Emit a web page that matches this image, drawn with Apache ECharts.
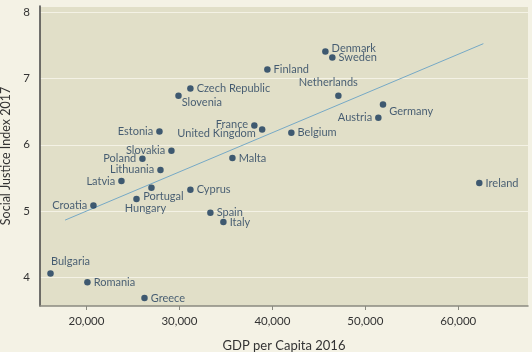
<!DOCTYPE html>
<html>
<head>
<meta charset="utf-8">
<script src="https://cdn.jsdelivr.net/npm/echarts@6/dist/echarts.min.js"></script>
<style>
  html, body { margin: 0; padding: 0; background: #f4f2e5; }
  #chart { width: 532px; height: 352px; }
</style>
</head>
<body>
<div id="chart"></div>
<script>
// Static data
const countries = ["Denmark", "Sweden", "Finland", "Netherlands", "Germany", "Austria",
  "Czech Republic", "Slovenia", "France", "United Kingdom", "Belgium", "Estonia",
  "Slovakia", "Malta", "Poland", "Lithuania", "Latvia", "Portugal", "Cyprus",
  "Hungary", "Croatia", "Spain", "Italy", "Ireland", "Bulgaria", "Romania", "Greece"];
const gdp2016 = [45700, 46450, 39460, 47100, 51900, 51400,
  31180, 29900, 38060, 38900, 42040, 27850,
  29140, 35700, 26020, 27960, 23760, 26990, 31180,
  25380, 20750, 33330, 34730, 62260, 16130, 20100, 26240];
const sji2017 = [7.41, 7.32, 7.14, 6.74, 6.61, 6.41,
  6.85, 6.74, 6.29, 6.23, 6.18, 6.20,
  5.91, 5.80, 5.79, 5.62, 5.45, 5.35, 5.32,
  5.18, 5.08, 4.97, 4.83, 5.42, 4.05, 3.92, 3.68];
// trend line end points
const trendX = [17700, 62700];
const trendY = [4.86, 7.53];

// where each label sits next to its dot
const labelPlace = {
  "Denmark": ["right", [0, -3]],
  "Netherlands": ["top", [-10, -2]],
  "Germany": ["right", [0, 7]],
  "Austria": ["left", [0, 0]],
  "Slovenia": ["right", [-3, 7]],
  "France": ["left", [0, -1]],
  "United Kingdom": ["left", [0, 4]],
  "Estonia": ["left", [0, 0]],
  "Slovakia": ["left", [0, 0]],
  "Poland": ["left", [0, 0]],
  "Lithuania": ["left", [0, 0]],
  "Latvia": ["left", [0, 0]],
  "Portugal": ["bottom", [12, -3]],
  "Hungary": ["bottom", [9, -2]],
  "Croatia": ["left", [0, 0]],
  "Bulgaria": ["top", [20, 0]]
};

const labelColor = "#1d3a5a";
const points = countries.map((name, i) => {
  const p = labelPlace[name] || ["right", [0, 0]];
  return {
    name: name,
    value: [gdp2016[i], sji2017[i]],
    label: { position: p[0], offset: p[1] }
  };
});

const chart = echarts.init(document.getElementById("chart"));
chart.setOption({
  backgroundColor: "#f4f2e5",
  textStyle: { fontFamily: "Lato" },
  grid: {
    left: 40, right: 4, top: 6, bottom: 46,
    outerBoundsMode: "none",
    containLabel: false,
    show: true, backgroundColor: "#e1dfc8", borderWidth: 0
  },
  xAxis: {
    type: "value",
    min: 15000,
    max: 67500,
    splitNumber: 5,
    name: "GDP per Capita 2016",
    nameLocation: "middle",
    nameGap: 33,
    nameTextStyle: { fontSize: 13, color: "#333", fontFamily: "Lato" },
    axisLine: { show: true, lineStyle: { color: "#8a8a80", width: 1.5 } },
    axisTick: { show: true, length: 4, lineStyle: { color: "#8a8a80" } },
    axisLabel: {
      fontSize: 11.5, color: "#333", margin: 9,
      showMinLabel: false, showMaxLabel: false,
      formatter: v => v.toLocaleString("en-US")
    },
    splitLine: { show: false }
  },
  yAxis: {
    type: "value",
    min: 3.56,
    max: 8.1,
    splitNumber: 5,
    name: "Social Justice Index 2017",
    nameLocation: "middle",
    nameGap: 27,
    nameTextStyle: { fontSize: 12.5, color: "#333", fontFamily: "Lato" },
    axisLine: { show: true, lineStyle: { color: "#444", width: 1.5 } },
    axisTick: { show: false },
    axisLabel: {
      fontSize: 11.5, color: "#333", margin: 10,
      showMinLabel: false, showMaxLabel: false
    },
    splitLine: { show: true, lineStyle: { color: "#f4f2e5", width: 1.2 } }
  },
  series: [
    {
      type: "line",
      data: [[trendX[0], trendY[0]], [trendX[1], trendY[1]]],
      symbol: "none",
      lineStyle: { color: "#76a9c6", width: 1 },
      silent: true,
      z: 1
    },
    {
      type: "scatter",
      data: points,
      symbolSize: 6.5,
      itemStyle: { color: "#15375a" },
      label: {
        show: true,
        formatter: "{b}",
        fontSize: 11,
        color: labelColor,
        distance: 3
      },
      z: 3
    }
  ]
});
</script>
</body>
</html>
